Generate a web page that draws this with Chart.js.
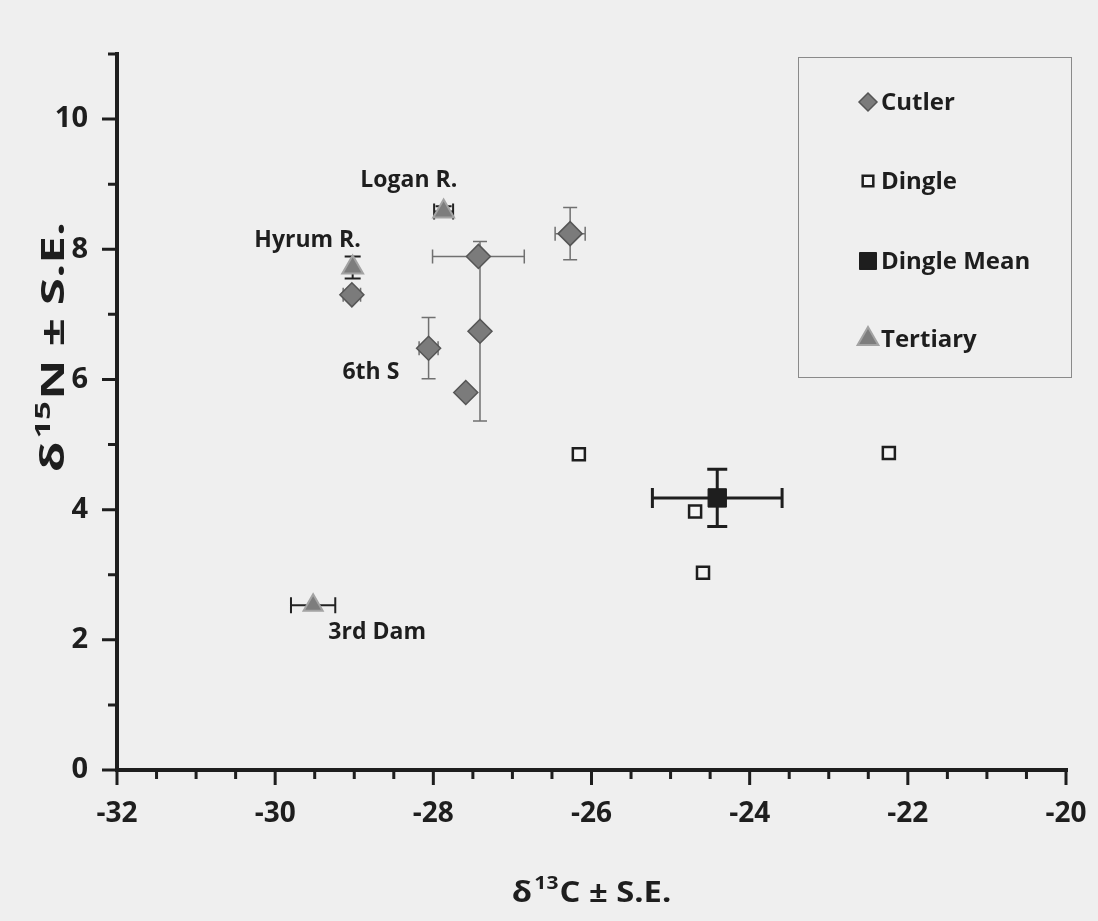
<!DOCTYPE html>
<html>
<head>
<meta charset="utf-8">
<script src="https://cdn.jsdelivr.net/npm/chart.js@4.4.1/dist/chart.umd.min.js"></script>
<style>
  html, body { margin: 0; padding: 0; background: #efefef; }
  canvas { display: block; }
</style>
</head>
<body>
<canvas id="isotope-chart" width="1098" height="921"></canvas>
<script>
// Cutler sites
const cutlerX = [-29.03, -28.06, -27.43, -27.41, -27.59, -26.27];
const cutlerY = [7.30, 6.48, 7.89, 6.74, 5.80, 8.24];
const cutlerXErr = [0.11, 0.12, 0.58, 0, 0, 0.19];
const cutlerYErr = [0, 0.47, 0, 1.38, 0, 0.40];

// Dingle marsh samples
const dingleX = [-26.16, -24.69, -24.59, -22.24];
const dingleY = [4.85, 3.97, 3.03, 4.87];

// Dingle mean
const dingleMeanX = [-24.41];
const dingleMeanY = [4.18];
const dingleMeanXErr = [0.82];
const dingleMeanYErr = [0.44];

// Tertiary sites (Logan R., Hyrum R., 3rd Dam)
const tertiaryX = [-27.87, -29.02, -29.52];
const tertiaryY = [8.58, 7.72, 2.53];
const tertiaryXErr = [0.12, 0, 0.28];
const tertiaryYErr = [0.08, 0.17, 0];

// Site labels placed in data units
const siteLabels = ['Logan R.', 'Hyrum R.', '6th S', '3rd Dam'];
const siteLabelX = [-28.31, -29.59, -28.79, -28.71];
const siteLabelY = [9.05, 8.13, 6.10, 2.12];

const xTicks = [-32, -30, -28, -26, -24, -22, -20];
const yTicks = [0, 2, 4, 6, 8, 10];

const FONT = "'Open Sans', 'DejaVu Sans', sans-serif";
const INK = '#1e1e1e';

function toPoints(xs, ys) {
  return xs.map((x, i) => ({ x: x, y: ys[i] }));
}

/** Paper background. */
const paperPlugin = {
  id: 'paper',
  beforeDraw(chart) {
    const ctx = chart.ctx;
    ctx.save();
    ctx.fillStyle = '#efefef';
    ctx.fillRect(0, 0, chart.width, chart.height);
    ctx.restore();
  }
};

/** Error bars, drawn under the markers. */
const errorBarPlugin = {
  id: 'errorBars',
  beforeDatasetsDraw(chart) {
    const ctx = chart.ctx;
    const xs = chart.scales.x, ys = chart.scales.y;
    chart.data.datasets.forEach(ds => {
      if (!ds.xErr && !ds.yErr) return;
      ctx.save();
      ctx.strokeStyle = ds.errColor;
      ctx.lineWidth = ds.errWidth;
      const cap = ds.errCap;
      ds.data.forEach((p, i) => {
        const px = xs.getPixelForValue(p.x);
        const py = ys.getPixelForValue(p.y);
        const ex = ds.xErr ? ds.xErr[i] : 0;
        const ey = ds.yErr ? ds.yErr[i] : 0;
        ctx.beginPath();
        if (ex > 0) {
          const l = xs.getPixelForValue(p.x - ex), r = xs.getPixelForValue(p.x + ex);
          ctx.moveTo(l, py); ctx.lineTo(r, py);
          ctx.moveTo(l, py - cap); ctx.lineTo(l, py + cap);
          ctx.moveTo(r, py - cap); ctx.lineTo(r, py + cap);
        }
        if (ey > 0) {
          const t = ys.getPixelForValue(p.y + ey), b = ys.getPixelForValue(p.y - ey);
          ctx.moveTo(px, t); ctx.lineTo(px, b);
          ctx.moveTo(px - cap, t); ctx.lineTo(px + cap, t);
          ctx.moveTo(px - cap, b); ctx.lineTo(px + cap, b);
        }
        ctx.stroke();
      });
      ctx.restore();
    });
  }
};

/** Axis lines, major and minor ticks, titles with superscripts, site labels and legend. */
const decorPlugin = {
  id: 'decor',
  afterDraw(chart) {
    const ctx = chart.ctx;
    const xs = chart.scales.x, ys = chart.scales.y;
    const x0 = xs.getPixelForValue(xs.min), x1 = xs.getPixelForValue(xs.max);
    const y0 = ys.getPixelForValue(ys.min), y1 = ys.getPixelForValue(ys.max);

    ctx.save();
    ctx.strokeStyle = INK;
    ctx.lineCap = 'butt';

    // axis lines
    ctx.lineWidth = 4;
    ctx.beginPath();
    ctx.moveTo(x0, y1 - 2); ctx.lineTo(x0, y0 + 2);
    ctx.moveTo(x0 - 2, y0); ctx.lineTo(x1 + 2, y0);
    ctx.stroke();

    // ticks
    ctx.lineWidth = 3;
    ctx.beginPath();
    for (let v = ys.min; v <= ys.max + 1e-9; v += 1) {
      const py = ys.getPixelForValue(v);
      const len = v % 2 === 0 ? 15 : 9;
      ctx.moveTo(x0, py); ctx.lineTo(x0 - len, py);
    }
    for (let v = xs.min; v <= xs.max + 1e-9; v += 0.5) {
      const px = xs.getPixelForValue(v);
      const len = Math.abs(v % 2) < 1e-9 ? 15 : 9;
      ctx.moveTo(px, y0); ctx.lineTo(px, y0 + len);
    }
    ctx.stroke();

    ctx.fillStyle = INK;

    // x axis title: δ13C ± S.E.
    drawIsoTitle(ctx, '13', 'C \u00b1 S.E.', (x0 + x1) / 2, 902, 0, 28, 1.17);
    // y axis title: δ15N ± S.E. (stretched along its length like the scan)
    drawIsoTitle(ctx, '15', 'N \u00b1 S.E.', 64, 347, -Math.PI / 2, 32, 1.55);

    // site labels
    ctx.font = `bold 23px ${FONT}`;
    ctx.textAlign = 'center';
    ctx.textBaseline = 'middle';
    siteLabels.forEach((t, i) => {
      ctx.fillText(t, xs.getPixelForValue(siteLabelX[i]), ys.getPixelForValue(siteLabelY[i]));
    });

    // legend
    ctx.lineWidth = 1;
    ctx.strokeStyle = '#8a8a8a';
    ctx.strokeRect(798.5, 57.5, 273, 320);
    const order = ['Cutler', 'Dingle', 'Dingle Mean', 'Tertiary'];
    const rowY = [102, 181, 261, 339];
    const legendRadius = { 'Cutler': 9, 'Dingle': 7.5, 'Dingle Mean': 12, 'Tertiary': 12 };
    ctx.font = `bold 24px ${FONT}`;
    ctx.textAlign = 'left';
    ctx.textBaseline = 'middle';
    order.forEach((name, i) => {
      const ds = chart.data.datasets.find(d => d.label === name);
      ctx.save();
      ctx.fillStyle = ds.backgroundColor;
      ctx.strokeStyle = ds.borderColor;
      ctx.lineWidth = ds.borderWidth;
      Chart.helpers.drawPoint(ctx, {
        pointStyle: ds.pointStyle,
        radius: legendRadius[name],
        rotation: 0,
        borderWidth: ds.borderWidth
      }, 868, rowY[i]);
      ctx.restore();
      ctx.fillStyle = INK;
      ctx.fillText(name, 881, rowY[i] + 1);
    });

    ctx.restore();
  }
};

function drawIsoTitle(ctx, sup, rest, cx, baseline, rot, size, stretch) {
  const big = `bold ${size}px ${FONT}`;
  const small = `bold ${Math.round(size * 0.66)}px ${FONT}`;
  ctx.save();
  ctx.translate(cx, baseline);
  ctx.rotate(rot);
  ctx.scale(stretch, 1);
  ctx.textBaseline = 'alphabetic';
  ctx.textAlign = 'left';
  ctx.font = big;
  const wD = ctx.measureText('\u03b4').width;
  const wR = ctx.measureText(rest).width;
  ctx.font = small;
  const wS = ctx.measureText(sup).width;
  const total = wD + 2 + wS + 1 + wR;
  let x = -total / 2;
  ctx.font = big;
  ctx.fillText('\u03b4', x, 0);
  x += wD + 2;
  ctx.font = small;
  ctx.fillText(sup, x, -size * 0.45);
  x += wS + 1;
  ctx.font = big;
  ctx.fillText(rest, x, 0);
  ctx.restore();
}

new Chart(document.getElementById('isotope-chart'), {
  type: 'scatter',
  data: {
    datasets: [
      {
        label: 'Tertiary',
        data: toPoints(tertiaryX, tertiaryY),
        xErr: tertiaryXErr, yErr: tertiaryYErr,
        errColor: '#222222', errWidth: 2, errCap: 8,
        pointStyle: 'triangle',
        pointRadius: [12, 12, 11],
        backgroundColor: '#7d7d7d',
        borderColor: '#a3a3a3',
        borderWidth: 2,
        order: 0
      },
      {
        label: 'Cutler',
        data: toPoints(cutlerX, cutlerY),
        xErr: cutlerXErr, yErr: cutlerYErr,
        errColor: '#707070', errWidth: 1.5, errCap: 7,
        pointStyle: 'rectRot',
        pointRadius: 12,
        backgroundColor: '#7b7b7b',
        borderColor: '#555555',
        borderWidth: 1.5,
        order: 1
      },
      {
        label: 'Dingle',
        data: toPoints(dingleX, dingleY),
        pointStyle: 'rect',
        pointRadius: 8.5,
        backgroundColor: '#f4f4f4',
        borderColor: '#1e1e1e',
        borderWidth: 2.5,
        order: 2
      },
      {
        label: 'Dingle Mean',
        data: toPoints(dingleMeanX, dingleMeanY),
        xErr: dingleMeanXErr, yErr: dingleMeanYErr,
        errColor: '#1e1e1e', errWidth: 3, errCap: 10,
        pointStyle: 'rect',
        pointRadius: 13,
        backgroundColor: '#1e1e1e',
        borderColor: '#1e1e1e',
        borderWidth: 1,
        order: 1
      }
    ]
  },
  options: {
    responsive: false,
    animation: false,
    layout: { padding: { top: 54, right: 32, left: 0, bottom: 0 } },
    plugins: {
      legend: { display: false },
      tooltip: { enabled: false }
    },
    scales: {
      x: {
        type: 'linear',
        min: -32,
        max: -20,
        afterBuildTicks: s => { s.ticks = xTicks.map(v => ({ value: v })); },
        afterFit: s => { s.height = 151; s.paddingLeft = 0; s.paddingRight = 0; },
        grid: { display: false },
        border: { display: false },
        ticks: {
          color: INK,
          padding: 19,
          font: { family: FONT, size: 28, weight: 'bold' }
        }
      },
      y: {
        type: 'linear',
        min: 0,
        max: 11,
        afterBuildTicks: s => { s.ticks = yTicks.map(v => ({ value: v })); },
        afterFit: s => { s.width = 117; s.paddingTop = 0; s.paddingBottom = 0; },
        grid: { display: false },
        border: { display: false },
        ticks: {
          color: INK,
          padding: 21,
          font: { family: FONT, size: 29, weight: 'bold' }
        }
      }
    }
  },
  plugins: [paperPlugin, errorBarPlugin, decorPlugin]
});
</script>
</body>
</html>
